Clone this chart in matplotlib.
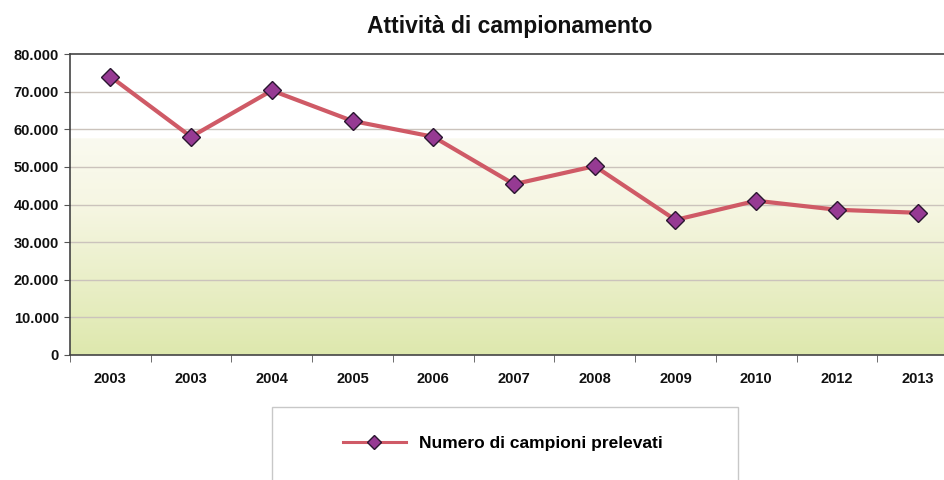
import matplotlib
matplotlib.use('Agg')
import matplotlib.pyplot as plt
from matplotlib.ticker import FuncFormatter
from matplotlib.patches import Rectangle
import numpy as np

### data ###
years = ['2003', '2003', '2004', '2005', '2006', '2007', '2008', '2009', '2010', '2012', '2013']
campioni = [74000, 58000, 70300, 62200, 58000, 45400, 50200, 35900, 41000, 38600, 37800]

plt.rcParams['font.family'] = ['Liberation Sans', 'DejaVu Sans']

fig = plt.figure(figsize=(9.45, 4.8), dpi=100)
ax = fig.add_axes([70/945, 125/480, 888/945, 301/480])

x = np.arange(len(years))
ax.set_xlim(-0.5, len(years) - 0.5)
ax.set_ylim(0, 80000)

### background gradient: white on top, pale yellow-green at bottom
top = np.array([1.0, 1.0, 1.0])
mid = np.array([0.965, 0.965, 0.89])
bot = np.array([0.87, 0.91, 0.68])
n = 200
t = np.linspace(0, 1, n)[:, None]  # 0 = bottom, 1 = top
grad = np.where(t < 0.5, bot + (mid - bot) * (t / 0.5), mid + (top - mid) * ((t - 0.5) / 0.5))
grad = np.where(t > 0.72, top, grad)
img = np.repeat(grad[:, None, :], 2, axis=1)
ax.imshow(img, extent=[0, 1, 0, 1], transform=ax.transAxes, origin='lower', aspect='auto', zorder=0)

### grid
for yv in range(10000, 80000, 10000):
    ax.axhline(yv, color='#cbc3bc', lw=1.0, zorder=1)

ax.plot(x, campioni, color='#cf5a66', lw=3, marker='D', markersize=9.5,
        markerfacecolor='#963a93', markeredgecolor='#2a1630', markeredgewidth=1.0,
        zorder=3, label='Numero di campioni prelevati')

ax.set_yticks(range(0, 80001, 10000))
ax.yaxis.set_major_formatter(FuncFormatter(lambda v, p: f'{int(v):,}'.replace(',', '.')))
ax.set_xticks(x)
ax.set_xticklabels(years)
ax.set_xticks(np.arange(-0.5, len(years), 1), minor=True)
ax.tick_params(axis='x', which='major', length=0, pad=12)
ax.tick_params(axis='x', which='minor', length=5, color='#555555')
ax.tick_params(axis='y', length=4, color='#555555', pad=4)
for lbl in ax.get_xticklabels() + ax.get_yticklabels():
    lbl.set_fontweight('bold')
    lbl.set_fontsize(10.5)
    lbl.set_color('#111111')

for side in ['left', 'bottom', 'top']:
    ax.spines[side].set_color('#444444')
    ax.spines[side].set_linewidth(1.2)
ax.spines['right'].set_visible(False)

fig.text(510/945, 1 - 26/480, 'Attività di campionamento', ha='center', va='center',
         fontsize=16.5, fontweight='bold', color='#111111')

### legend box (cut at the bottom edge)
fig.patches.append(Rectangle((272/945, -0.05), 466/945, (480 - 407)/480 + 0.05,
                             transform=fig.transFigure, fill=False,
                             edgecolor='#c8c8c8', linewidth=1.0))
leg = fig.legend(loc='center left', bbox_to_anchor=(343/945, 1 - 443/480),
                 frameon=False, prop={'weight': 'bold', 'size': 12.5},
                 handlelength=3.6, handletextpad=0.75, borderpad=0, borderaxespad=0,
                 markerscale=0.75)
leg.get_lines()[0].set_linewidth(2.2)

fig.savefig('out.png', dpi=100)
